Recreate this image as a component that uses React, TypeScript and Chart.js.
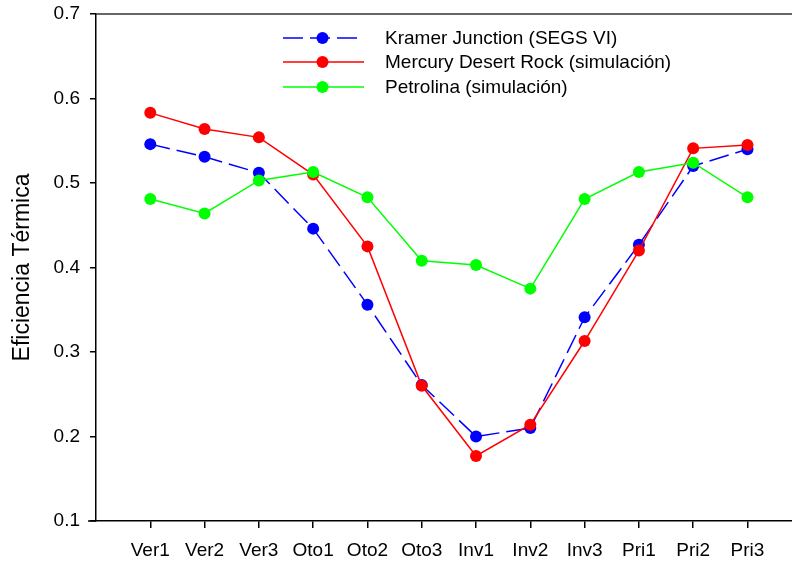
import React, { useEffect, useRef } from "react";
import { Chart, registerables } from "chart.js";

Chart.register(...registerables);

const categories = ["Ver1", "Ver2", "Ver3", "Oto1", "Oto2", "Oto3", "Inv1", "Inv2", "Inv3", "Pri1", "Pri2", "Pri3"];
const kramer = [0.546, 0.531, 0.512, 0.446, 0.356, 0.261, 0.2, 0.21, 0.341, 0.427, 0.52, 0.54];
const mercury = [0.583, 0.564, 0.554, 0.51, 0.425, 0.26, 0.177, 0.214, 0.313, 0.42, 0.541, 0.545];
const petrolina = [0.481, 0.464, 0.503, 0.513, 0.483, 0.408, 0.403, 0.375, 0.481, 0.513, 0.524, 0.483];
const yTicks = [0.1, 0.2, 0.3, 0.4, 0.5, 0.6, 0.7];
const seriesLabels = [
  "Kramer Junction (SEGS VI)",
  "Mercury Desert Rock (simulación)",
  "Petrolina (simulación)",
];
const yTitle = "Eficiencia Térmica";

const FONT = "'Liberation Sans', Arial, Helvetica, sans-serif";

const toPoints = (arr: number[]) => arr.map((v, i) => ({ x: i + 1, y: v }));

const frameAndLegend = {
  id: "frameAndLegend",
  afterDraw(chart: any) {
    const ctx = chart.ctx;
    const area = chart.chartArea;
    ctx.save();
    // top frame line
    ctx.strokeStyle = "#333333";
    ctx.lineWidth = 1.5;
    ctx.beginPath();
    ctx.moveTo(area.left, area.top);
    ctx.lineTo(chart.width, area.top);
    ctx.stroke();
    // bottom axis small extension to the left
    ctx.strokeStyle = "#000";
    ctx.beginPath();
    ctx.moveTo(area.left - 8, area.bottom);
    ctx.lineTo(area.left, area.bottom);
    ctx.stroke();

    // legend
    const ds = chart.data.datasets;
    const x0 = 283;
    const x1 = 364;
    const xm = 322.5;
    const rows = [38, 62, 87];
    ds.forEach((d: any, i: number) => {
      const y = rows[i];
      ctx.strokeStyle = d.borderColor;
      ctx.lineWidth = d.borderWidth;
      ctx.setLineDash(d.borderDash || []);
      ctx.beginPath();
      ctx.moveTo(x0, y);
      ctx.lineTo(x1, y);
      ctx.stroke();
      ctx.setLineDash([]);
      ctx.fillStyle = d.backgroundColor;
      ctx.beginPath();
      ctx.arc(xm, y, 6, 0, Math.PI * 2);
      ctx.fill();
      ctx.fillStyle = "#000";
      ctx.font = `19px ${FONT}`;
      ctx.textBaseline = "middle";
      ctx.textAlign = "left";
      ctx.fillText(d.label, 385, y + 1);
    });
    ctx.restore();
  },
};

export default function App() {
  const ref = useRef<HTMLCanvasElement | null>(null);

  useEffect(() => {
    if (!ref.current) return;
    const mk = (label: string, data: number[], color: string, order: number, dash?: number[]) => ({
      label,
      data: toPoints(data),
      borderColor: color,
      backgroundColor: color,
      borderWidth: 1.5,
      borderDash: dash,
      pointRadius: 6,
      pointBorderWidth: 0,
      pointBackgroundColor: color,
      tension: 0,
      order,
      clip: false,
    });
    const chart = new Chart(ref.current, {
      type: "line",
      data: {
        datasets: [
          mk(seriesLabels[0], kramer, "#0000FF", 2, [20, 7]),
          mk(seriesLabels[1], mercury, "#FF0000", 1),
          mk(seriesLabels[2], petrolina, "#00FF00", 0),
        ],
      },
      options: {
        responsive: false,
        animation: false,
        devicePixelRatio: 1,
        layout: { padding: { top: 14, left: 0, right: 0, bottom: 0 } },
        plugins: {
          legend: { display: false },
          tooltip: { enabled: false },
        },
        scales: {
          x: {
            type: "linear",
            min: 0,
            max: 12.82,
            afterBuildTicks: (scale: any) => {
              scale.ticks = categories.map((_, i) => ({ value: i + 1 }));
            },
            afterFit: (scale: any) => {
              scale.height = 44;
              scale.paddingLeft = 0;
              scale.paddingRight = 0;
              scale.paddingTop = 0;
              scale.paddingBottom = 0;
            },
            ticks: {
              autoSkip: false,
              maxRotation: 0,
              padding: 11,
              color: "#000",
              font: { family: FONT, size: 19 },
              callback: (v: any) => categories[Math.round(Number(v)) - 1] ?? "",
            },
            grid: {
              drawOnChartArea: false,
              drawTicks: true,
              tickLength: 7,
              color: "#000",
              lineWidth: 1.5,
            },
            border: { display: true, color: "#000", width: 1.5 },
          },
          y: {
            type: "linear",
            min: 0.1,
            max: 0.7,
            afterBuildTicks: (scale: any) => {
              scale.ticks = yTicks.map((v) => ({ value: v }));
            },
            afterFit: (scale: any) => {
              scale.width = 96;
              scale.paddingLeft = 0;
              scale.paddingRight = 0;
              scale.paddingTop = 0;
              scale.paddingBottom = 0;
            },
            ticks: {
              padding: 10,
              color: "#000",
              font: { family: FONT, size: 19 },
              callback: (v: any) => Number(v).toFixed(1),
            },
            grid: {
              drawOnChartArea: false,
              drawTicks: true,
              tickLength: 6,
              color: "#000",
              lineWidth: 1.5,
            },
            border: { display: true, color: "#000", width: 1.5 },
            title: {
              display: true,
              text: yTitle,
              color: "#000",
              font: { family: FONT, size: 23 },
              padding: { top: 9, bottom: 0 },
            },
          },
        },
      },
      plugins: [frameAndLegend],
    } as any);
    return () => chart.destroy();
  }, []);

  return (
    <div style={{ position: "absolute", left: 0, top: 0, width: 792, height: 565, background: "#fff", overflow: "hidden" }}>
      <canvas ref={ref} width={798} height={565} style={{ display: "block" }} />
    </div>
  );
}
